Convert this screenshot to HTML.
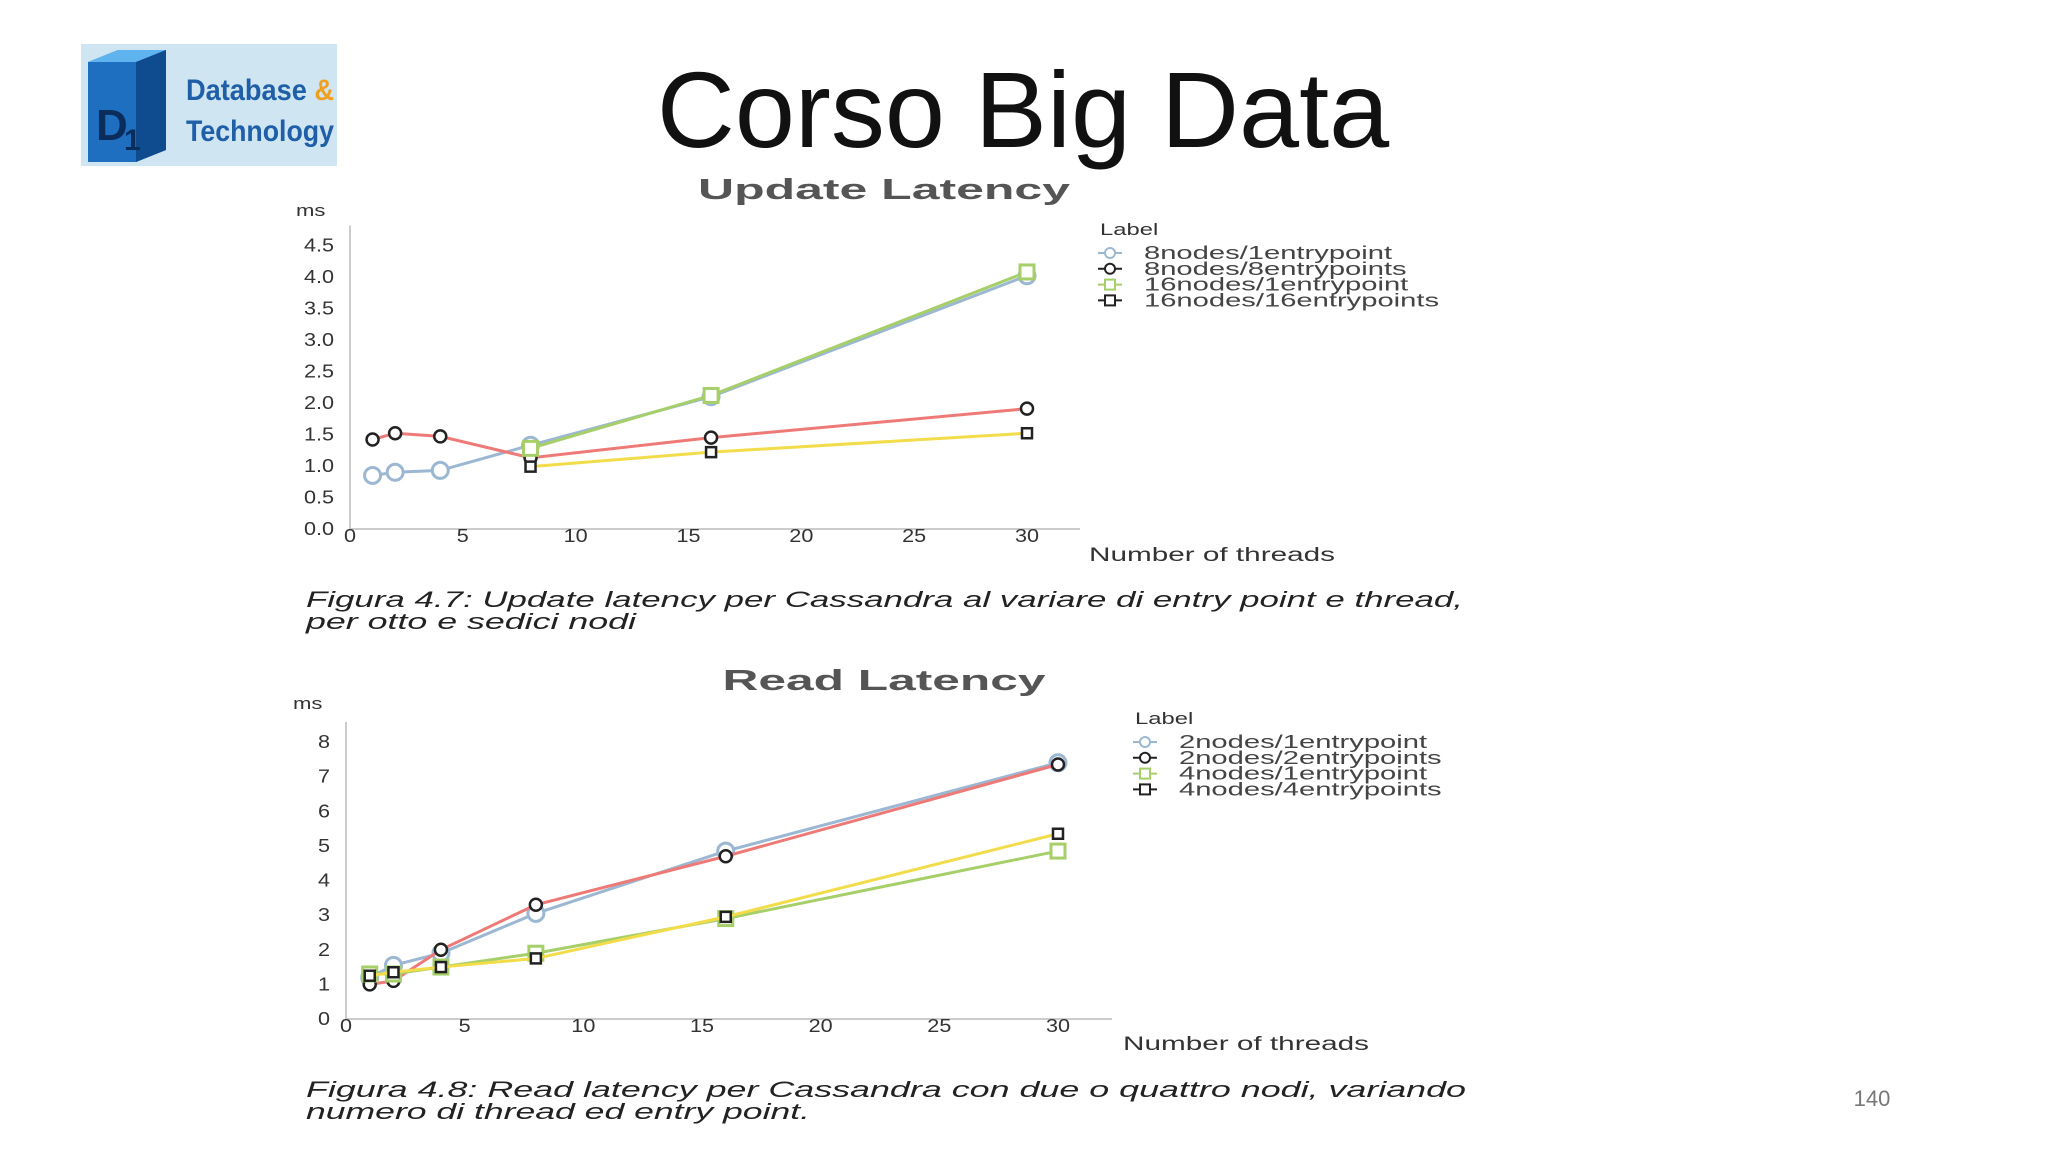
<!DOCTYPE html>
<html><head><meta charset="utf-8"><style>
html,body{margin:0;padding:0;background:#fff;}
svg{display:block;font-family:"Liberation Sans",Arial,sans-serif;}
</style></head><body>
<svg id="s" width="2048" height="1152" viewBox="0 0 2048 1152">
<g>
<rect x="81" y="44" width="256" height="122" fill="#cfe6f2"/>
<polygon points="88,62 118,50 166,50 166,150 136,162 88,162" fill="#1e6fc0"/>
<polygon points="88,62 118,50 166,50 136,62" fill="#5fb4f0"/>
<polygon points="136,62 166,50 166,150 136,162" fill="#0e4c8f"/>
<text x="96" y="140" font-size="44" font-weight="bold" fill="#0a2d5c">D</text>
<text x="124" y="150" font-size="30" font-weight="bold" fill="#0a2d5c">1</text>
<text x="186" y="100" font-size="30" font-weight="bold" fill="#1f5fa8" textLength="148" lengthAdjust="spacingAndGlyphs">Database <tspan fill="#f0a020">&amp;</tspan></text>
<text x="186" y="141" font-size="30" font-weight="bold" fill="#1f5fa8" textLength="148" lengthAdjust="spacingAndGlyphs">Technology</text>
</g>
<text x="1023" y="147" font-size="108" text-anchor="middle" fill="#111">Corso Big Data</text>
<text x="1872" y="1106" font-size="22" text-anchor="middle" fill="#777">140</text>
<g id="c1"></g>
<g id="c2"></g>
</svg>
<script>
// Chart 1: Update Latency
const threads1a = [1,2,4,8,16,30];
const threads1b = [8,16,30];
const upd8n1e = [0.85,0.9,0.93,1.33,2.1,4.02];
const upd8n8e = [1.42,1.52,1.47,1.13,1.45,1.91];
const upd16n1e = [1.28,2.12,4.08];
const upd16n16e = [0.99,1.22,1.52];
const yTicks1 = [0,0.5,1,1.5,2,2.5,3,3.5,4,4.5];
const yTickLabels1 = ["0.0","0.5","1.0","1.5","2.0","2.5","3.0","3.5","4.0","4.5"];
const xTicks = [0,5,10,15,20,25,30];
const legend1 = ["8nodes/1entrypoint","8nodes/8entrypoints","16nodes/1entrypoint","16nodes/16entrypoints"];
// Chart 2: Read Latency
const threads2 = [1,2,4,8,16,30];
const rd2n1e = [1.2,1.55,1.9,3.05,4.85,7.4];
const rd2n2e = [1.0,1.1,2.0,3.3,4.7,7.35];
const rd4n1e = [1.3,1.3,1.5,1.9,2.9,4.85];
const rd4n4e = [1.25,1.35,1.5,1.75,2.95,5.35];
const yTicks2 = [0,1,2,3,4,5,6,7,8];
const yTickLabels2 = ["0","1","2","3","4","5","6","7","8"];
const legend2 = ["2nodes/1entrypoint","2nodes/2entrypoints","4nodes/1entrypoint","4nodes/4entrypoints"];

const NS="http://www.w3.org/2000/svg";
function mk(p,t,a){const e=document.createElementNS(NS,t);for(const k in a)e.setAttribute(k,a[k]);p.appendChild(e);return e;}
function fit(e,w){e.setAttribute('textLength',w);e.setAttribute('lengthAdjust','spacingAndGlyphs');}
function stretch(e,f){const w=e.getComputedTextLength();fit(e,w*f);}

function chart(g,cfg){
  const xs=v=>cfg.x0+(v/30)*(cfg.x30-cfg.x0);
  const ys=v=>cfg.y0-(v/cfg.ymax)*(cfg.y0-cfg.ytop);
  let t=mk(g,'text',{x:884-cfg.titleW/2,y:cfg.titleY,'font-size':29,'font-weight':'bold',fill:'#555'});
  t.textContent=cfg.title;fit(t,cfg.titleW);
  
  
  t=mk(g,'text',{x:cfg.msX,y:cfg.msY,'font-size':17,fill:'#333'});t.textContent='ms';stretch(t,1.3);
  
  
  let ax=mk(g,'path',{d:`M${cfg.x0},${cfg.ytop-20}V${cfg.y0}H${cfg.xend}`,stroke:'#ccc','stroke-width':2,fill:'none'});
  
  
  cfg.yt.forEach((v,i)=>{const e=mk(g,'text',{x:cfg.x0-16,y:ys(v)+6,'font-size':18,'text-anchor':'end',fill:'#333'});e.textContent=cfg.ytl[i];stretch(e,1.2);
    
    });
  xTicks.forEach(v=>{const e=mk(g,'text',{x:xs(v),y:cfg.y0+13,'font-size':18,'text-anchor':'middle',fill:'#333'});e.textContent=String(v);stretch(e,1.2);
    
    });
  t=mk(g,'text',{x:cfg.ntX,y:cfg.ntY,'font-size':19,fill:'#333'});t.textContent='Number of threads';fit(t,246);
  
  
  cfg.series.forEach(s=>{
    const pts=s.x.map((xv,i)=>xs(xv)+','+ys(s.y[i])).join(' ');
    const l=mk(g,'polyline',{points:pts,fill:'none',stroke:s.line,'stroke-width':3});
    
    
    s.x.forEach((xv,i)=>{
      const cx=xs(xv),cy=ys(s.y[i]);let m;
      if(s.mk==='circle') m=mk(g,'circle',{cx,cy,r:s.r,fill:'#fff',stroke:s.mc,'stroke-width':s.sw});
      else {m=mk(g,'rect',{x:cx-s.r,y:cy-s.r,width:2*s.r,height:2*s.r,fill:s.fill,stroke:s.mc,'stroke-width':s.sw});}
      
      
    });
  });
  t=mk(g,'text',{x:cfg.lgX-10,y:cfg.lgY,'font-size':17,fill:'#333'});t.textContent='Label';stretch(t,1.4);
  
  
  cfg.series.forEach((s,i)=>{
    const y=cfg.lgY+18+i*15.8;
    const gg=mk(g,'g',{});
    
    
    mk(gg,'line',{x1:cfg.lgX-12,x2:cfg.lgX+12,y1:y,y2:y,stroke:s.mc,'stroke-width':2});
    if(s.mk==='circle') mk(gg,'circle',{cx:cfg.lgX,cy:y,r:5,fill:'#fff',stroke:s.mc,'stroke-width':2});
    else mk(gg,'rect',{x:cfg.lgX-5,y:y-5,width:10,height:10,fill:s.fill,stroke:s.mc,'stroke-width':2});
    const e=mk(gg,'text',{x:cfg.lgX+34,y:y+6,'font-size':18,fill:'#444'});e.textContent=cfg.labels[i];stretch(e,1.62);
  });
  cfg.caption.forEach((c,i)=>{const e=mk(g,'text',{x:306,y:cfg.capY+i*22,'font-size':22,'font-style':'italic',fill:'#222'});e.textContent=c;fit(e,cfg.capW[i]);
    
    });
}
chart(document.getElementById('c1'),{title:'Update Latency',titleW:372,titleY:199,msX:296,msY:216,x0:350,x30:1027,xend:1080,y0:529,ytop:245.5,ymax:4.5,
  yt:yTicks1,ytl:yTickLabels1,ntX:1089,ntY:561,lgX:1110,lgY:235,labels:legend1,
  caption:['Figura 4.7:  Update latency per Cassandra al variare di entry point e thread,','per otto e sedici nodi'],capW:[1157,330],capY:607,
  series:[
   {name:'8n1e',x:threads1a,y:upd8n1e,line:'#9bb7d2',mk:'circle',r:8,mc:'#9bb7d2',sw:3},
   {name:'8n8e',x:threads1a,y:upd8n8e,line:'#ee7a78',mk:'circle',r:6,mc:'#222',sw:2.5},
   {name:'16n1e',x:threads1b,y:upd16n1e,line:'#a6cf6a',mk:'rect',r:7,mc:'#a6cf6a',fill:'#fff',sw:3},
   {name:'16n16e',x:threads1b,y:upd16n16e,line:'#f2dc4a',mk:'rect',r:5,mc:'#222',fill:'#fff',sw:2.5}]});
chart(document.getElementById('c2'),{title:'Read Latency',titleW:323,titleY:690,msX:293,msY:709,x0:346,x30:1058,xend:1112,y0:1019,ytop:742,ymax:8,
  yt:yTicks2,ytl:yTickLabels2,ntX:1123,ntY:1050,lgX:1145,lgY:724,labels:legend2,
  caption:['Figura 4.8:  Read latency per Cassandra con due o quattro nodi, variando','numero di thread ed entry point.'],capW:[1160,504],capY:1097,
  series:[
   {name:'2n1e',x:threads2,y:rd2n1e,line:'#9bb7d2',mk:'circle',r:8,mc:'#9bb7d2',sw:3},
   {name:'2n2e',x:threads2,y:rd2n2e,line:'#ee7a78',mk:'circle',r:6,mc:'#222',sw:2.5},
   {name:'4n1e',x:threads2,y:rd4n1e,line:'#a6cf6a',mk:'rect',r:7,mc:'#a6cf6a',fill:'#fff',sw:3},
   {name:'4n4e',x:threads2,y:rd4n4e,line:'#f2dc4a',mk:'rect',r:5,mc:'#222',fill:'#fff',sw:2.5}]});
</script>
</body></html>
